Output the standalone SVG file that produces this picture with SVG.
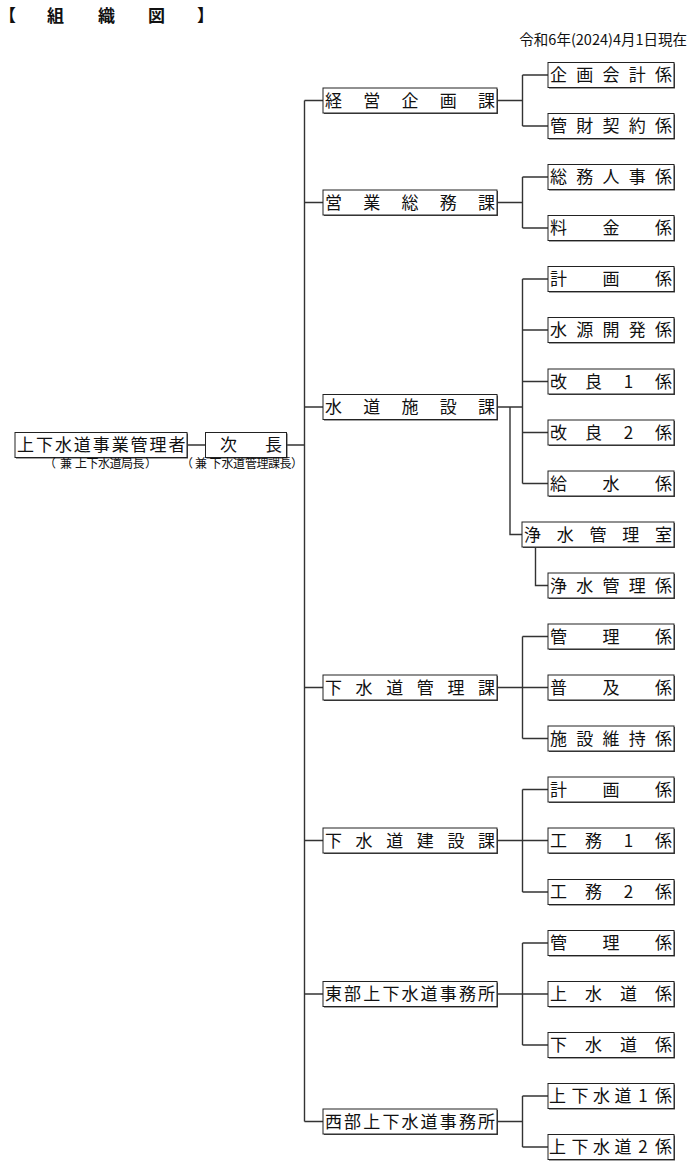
<svg xmlns="http://www.w3.org/2000/svg" width="700" height="1173" viewBox="0 0 700 1173">
<style>
.bg{fill:#fff}
.sh{fill:#444}
.box{fill:#fff;stroke:#222;stroke-width:1}
.t{font-family:"Noto Sans CJK JP","Noto Sans CJK SC",sans-serif;font-size:17px;text-anchor:middle;fill:#111}
.s{font-family:"Noto Sans CJK JP","Noto Sans CJK SC",sans-serif;font-size:12px;text-anchor:middle;fill:#111}
.ln{stroke:#333;stroke-width:1.4;fill:none}
</style>
<rect class="bg" x="0" y="0" width="700" height="1173"/>
<text font-family="Noto Sans CJK JP, sans-serif" font-weight="bold" font-size="17" fill="#111" x="-1 47 98 148 197" y="22">【組織図】</text>
<text font-family="Noto Sans CJK JP, sans-serif" font-size="14.5" fill="#111" text-anchor="end" x="687" y="45">令和6年(2024)4月1日現在</text>

<g id="connectors" class="ln">
<path d="M304.5 100.5V1121.5"/>
<path d="M304.5 100.5H323M304.5 202.5H323M304.5 407H323M304.5 687.5H323M304.5 840.5H323M304.5 994H323M304.5 1121.5H323"/>
<path d="M187.5 445H205.5M286.5 445H304.5"/>
<path d="M497 100.5H522.5M522.5 75V126M522.5 75H548M522.5 126H548"/>
<path d="M497 202.5H522.5M522.5 177V228M522.5 177H548M522.5 228H548"/>
<path d="M497 407H522.5M522.5 279V483.5M522.5 279H548M522.5 330H548M522.5 381.5H548M522.5 432.5H548M522.5 483.5H548"/>
<path d="M510 407V534.5H522"/>
<path d="M535.5 547V585.5H548"/>
<path d="M497 687.5H522.5M522.5 636.5V738.5M522.5 636.5H548M522.5 687.5H548M522.5 738.5H548"/>
<path d="M497 840.5H522.5M522.5 789.5V892M522.5 789.5H548M522.5 840.5H548M522.5 892H548"/>
<path d="M497 994H522.5M522.5 943V1045M522.5 943H548M522.5 994H548M522.5 1045H548"/>
<path d="M497 1121.5H522.5M522.5 1096V1147M522.5 1096H548M522.5 1147H548"/>
</g>

<g id="kanrisha"><rect class="sh" x="16" y="433.5" width="172" height="25"/><rect class="box" x="15" y="432.5" width="172" height="25"/><text class="t" x="25.5 44.4 63.4 82.3 101.3 120.2 139.1 158.1 177" y="451">上下水道事業管理者</text><text class="s" x="50 66 73 81 92.5 104 115.5 127 138.5 151" y="468">（兼 上下水道局長）</text></g>
<g id="jicho"><rect class="sh" x="206.5" y="433.5" width="81" height="25"/><rect class="box" x="205.5" y="432.5" width="81" height="25"/><text class="t" x="228.5 273.5" y="451">次長</text><text class="s" x="187 201 208 215.5 227.5 239 251 262.5 274 285.5 297" y="468">（兼 下水道管理課長）</text></g>

<g id="keiei"><rect class="sh" x="324" y="89" width="174" height="25"/><rect class="box" x="323" y="88" width="174" height="25"/><text class="t" x="333.5 371.75 410 448.25 486.5" y="106.5">経営企画課</text></g>
<g id="eigyo"><rect class="sh" x="324" y="191" width="174" height="25"/><rect class="box" x="323" y="190" width="174" height="25"/><text class="t" x="333.5 371.75 410 448.25 486.5" y="208.5">営業総務課</text></g>
<g id="suido-shisetsu"><rect class="sh" x="324" y="395.5" width="174" height="25"/><rect class="box" x="323" y="394.5" width="174" height="25"/><text class="t" x="333.5 371.75 410 448.25 486.5" y="413">水道施設課</text></g>
<g id="gesui-kanri"><rect class="sh" x="324" y="676" width="174" height="25"/><rect class="box" x="323" y="675" width="174" height="25"/><text class="t" x="333.5 364.1 394.7 425.3 455.9 486.5" y="693.5">下水道管理課</text></g>
<g id="gesui-kensetsu"><rect class="sh" x="324" y="829" width="174" height="25"/><rect class="box" x="323" y="828" width="174" height="25"/><text class="t" x="333.5 364.1 394.7 425.3 455.9 486.5" y="846.5">下水道建設課</text></g>
<g id="tobu"><rect class="sh" x="324" y="982.5" width="174" height="25"/><rect class="box" x="323" y="981.5" width="174" height="25"/><text class="t" x="333.5 352.6 371.75 390.9 410 429.1 448.25 467.4 486.5" y="1000">東部上下水道事務所</text></g>
<g id="seibu"><rect class="sh" x="324" y="1110" width="174" height="25"/><rect class="box" x="323" y="1109" width="174" height="25"/><text class="t" x="333.5 352.6 371.75 390.9 410 429.1 448.25 467.4 486.5" y="1127.5">西部上下水道事務所</text></g>

<g id="kikaku-kaikei"><rect class="sh" x="549" y="63.5" width="126" height="25"/><rect class="box" x="548" y="62.5" width="126" height="25"/><text class="t" x="558.5 584.75 611 637.25 663.5" y="81">企画会計係</text></g>
<g id="kanzai"><rect class="sh" x="549" y="114.5" width="126" height="25"/><rect class="box" x="548" y="113.5" width="126" height="25"/><text class="t" x="558.5 584.75 611 637.25 663.5" y="132">管財契約係</text></g>
<g id="somu-jinji"><rect class="sh" x="549" y="165.5" width="126" height="25"/><rect class="box" x="548" y="164.5" width="126" height="25"/><text class="t" x="558.5 584.75 611 637.25 663.5" y="183">総務人事係</text></g>
<g id="ryokin"><rect class="sh" x="549" y="216.5" width="126" height="25"/><rect class="box" x="548" y="215.5" width="126" height="25"/><text class="t" x="558.5 611 663.5" y="234">料金係</text></g>
<g id="keikaku1"><rect class="sh" x="549" y="267.5" width="126" height="25"/><rect class="box" x="548" y="266.5" width="126" height="25"/><text class="t" x="558.5 611 663.5" y="285">計画係</text></g>
<g id="suigen"><rect class="sh" x="549" y="318.5" width="126" height="25"/><rect class="box" x="548" y="317.5" width="126" height="25"/><text class="t" x="558.5 584.75 611 637.25 663.5" y="336">水源開発係</text></g>
<g id="kairyo1"><rect class="sh" x="549" y="370" width="126" height="25"/><rect class="box" x="548" y="369" width="126" height="25"/><text class="t" x="558.5 593.5 628.5 663.5" y="387.5">改良1係</text></g>
<g id="kairyo2"><rect class="sh" x="549" y="421" width="126" height="25"/><rect class="box" x="548" y="420" width="126" height="25"/><text class="t" x="558.5 593.5 628.5 663.5" y="438.5">改良2係</text></g>
<g id="kyusui"><rect class="sh" x="549" y="472" width="126" height="25"/><rect class="box" x="548" y="471" width="126" height="25"/><text class="t" x="558.5 611 663.5" y="489.5">給水係</text></g>
<g id="josui-shitsu"><rect class="sh" x="523" y="523" width="152" height="25"/><rect class="box" x="522" y="522" width="152" height="25"/><text class="t" x="532.5 565.25 598 630.75 663.5" y="540.5">浄水管理室</text></g>
<g id="josui-kakari"><rect class="sh" x="549" y="574" width="126" height="25"/><rect class="box" x="548" y="573" width="126" height="25"/><text class="t" x="558.5 584.75 611 637.25 663.5" y="591.5">浄水管理係</text></g>
<g id="kanri1"><rect class="sh" x="549" y="625" width="126" height="25"/><rect class="box" x="548" y="624" width="126" height="25"/><text class="t" x="558.5 611 663.5" y="642.5">管理係</text></g>
<g id="fukyu"><rect class="sh" x="549" y="676" width="126" height="25"/><rect class="box" x="548" y="675" width="126" height="25"/><text class="t" x="558.5 611 663.5" y="693.5">普及係</text></g>
<g id="shisetsu-iji"><rect class="sh" x="549" y="727" width="126" height="25"/><rect class="box" x="548" y="726" width="126" height="25"/><text class="t" x="558.5 584.75 611 637.25 663.5" y="744.5">施設維持係</text></g>
<g id="keikaku2"><rect class="sh" x="549" y="778" width="126" height="25"/><rect class="box" x="548" y="777" width="126" height="25"/><text class="t" x="558.5 611 663.5" y="795.5">計画係</text></g>
<g id="komu1"><rect class="sh" x="549" y="829" width="126" height="25"/><rect class="box" x="548" y="828" width="126" height="25"/><text class="t" x="558.5 593.5 628.5 663.5" y="846.5">工務1係</text></g>
<g id="komu2"><rect class="sh" x="549" y="880.5" width="126" height="25"/><rect class="box" x="548" y="879.5" width="126" height="25"/><text class="t" x="558.5 593.5 628.5 663.5" y="898">工務2係</text></g>
<g id="kanri2"><rect class="sh" x="549" y="931.5" width="126" height="25"/><rect class="box" x="548" y="930.5" width="126" height="25"/><text class="t" x="558.5 611 663.5" y="949">管理係</text></g>
<g id="josuido"><rect class="sh" x="549" y="982.5" width="126" height="25"/><rect class="box" x="548" y="981.5" width="126" height="25"/><text class="t" x="558.5 593.5 628.5 663.5" y="1000">上水道係</text></g>
<g id="gesuido"><rect class="sh" x="549" y="1033.5" width="126" height="25"/><rect class="box" x="548" y="1032.5" width="126" height="25"/><text class="t" x="558.5 593.5 628.5 663.5" y="1051">下水道係</text></g>
<g id="jogesui1"><rect class="sh" x="549" y="1084.5" width="126" height="25"/><rect class="box" x="548" y="1083.5" width="126" height="25"/><text class="t" x="557.5 580 601.5 623 643 663.5" y="1102">上下水道1係</text></g>
<g id="jogesui2"><rect class="sh" x="549" y="1135.5" width="126" height="25"/><rect class="box" x="548" y="1134.5" width="126" height="25"/><text class="t" x="557.5 580 601.5 623 643 663.5" y="1153">上下水道2係</text></g>
</svg>
